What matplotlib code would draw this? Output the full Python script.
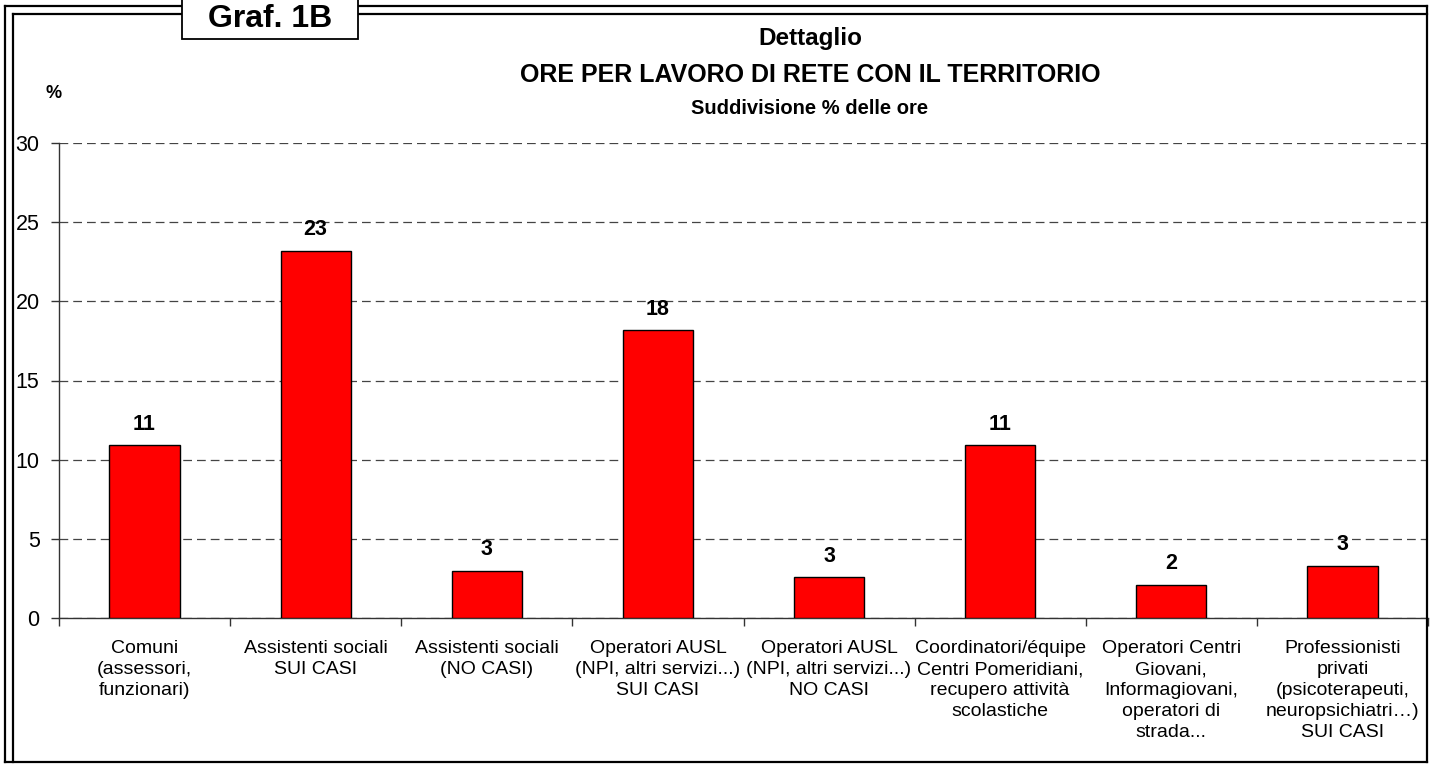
import numpy as np
import matplotlib
matplotlib.use('Agg')
import matplotlib.pyplot as plt
from matplotlib.patches import Rectangle
from matplotlib.lines import Line2D

# Dati (percentuali)
categorie = [
    'Comuni\n(assessori,\nfunzionari)',
    'Assistenti sociali\nSUI CASI',
    'Assistenti sociali\n(NO CASI)',
    'Operatori AUSL\n(NPI, altri servizi...)\nSUI CASI',
    'Operatori AUSL\n(NPI, altri servizi...)\nNO CASI',
    'Coordinatori/équipe\nCentri Pomeridiani,\nrecupero attività\nscolastiche',
    'Operatori Centri\nGiovani,\nInformagiovani,\noperatori di\nstrada...',
    'Professionisti\nprivati\n(psicoterapeuti,\nneuropsichiatri…)\nSUI CASI',
]
valori = [10.9, 23.2, 3.0, 18.2, 2.6, 10.9, 2.1, 3.3]
y_ticks = [0, 5, 10, 15, 20, 25, 30]

plt.rcParams['font.family'] = ['Liberation Sans', 'DejaVu Sans']

W, H = 1436, 764
fig = plt.figure(figsize=(W / 100, H / 100), dpi=100)


def fx(x):
    return x / W


def fy(y):
    return 1 - y / H


ax = fig.add_axes([fx(59), fy(618), fx(1428) - fx(59), fy(143) - fy(618)])

x = np.arange(len(valori))
ax.bar(x, valori, width=0.41, color='#ff0000', edgecolor='black', linewidth=1.0, zorder=3)

for xi, v in zip(x, valori):
    ax.annotate(f'{v:.0f}', (xi, v), xytext=(0, 15), textcoords='offset points',
                ha='center', va='center', fontsize=15.5, fontweight='bold')

ax.set_xlim(-0.5, len(valori) - 0.5)
ax.set_ylim(0, 30)
ax.set_yticks(y_ticks)
ax.set_yticklabels([str(t) for t in y_ticks], fontsize=15.5)
ax.set_xticks(x)
ax.set_xticklabels(categorie, fontsize=14, linespacing=1.3)
ax.set_xticks(np.arange(-0.5, len(valori), 1), minor=True)
ax.tick_params(axis='x', which='major', length=0, pad=16)
ax.tick_params(axis='x', which='minor', length=6, width=1, color='#333333')
ax.tick_params(axis='y', length=6, width=1, color='#333333', pad=8)

ax.yaxis.grid(True, linestyle=(0, (7, 4)), color='#444444', linewidth=0.9, zorder=0)
ax.set_axisbelow(True)
for s in ['top', 'right']:
    ax.spines[s].set_visible(False)
for s in ['left', 'bottom']:
    ax.spines[s].set_color('#333333')
    ax.spines[s].set_linewidth(1)

# Titoli
cx = fx(810)
fig.text(cx, fy(38), 'Dettaglio', ha='center', va='center', fontsize=17.5, fontweight='bold')
fig.text(cx, fy(75), 'ORE PER LAVORO DI RETE CON IL TERRITORIO', ha='center', va='center',
         fontsize=18, fontweight='bold')
fig.text(cx, fy(108), 'Suddivisione % delle ore', ha='center', va='center',
         fontsize=14.5, fontweight='bold')
fig.text(fx(54), fy(93), '%', ha='center', va='center', fontsize=13, fontweight='bold')

# Cornice doppia
lw = 1.6
bordi = [
    ((5, 5), (6, 762)), ((5, 1427), (6, 6)), ((1427, 1427), (6, 762)), ((5, 1427), (762, 762)),
    ((13, 13), (14, 762)), ((13, 1427), (14, 14)),
]
for xs, ys in bordi:
    fig.add_artist(Line2D([fx(xs[0]), fx(xs[1])], [fy(ys[0]), fy(ys[1])], color='black',
                          linewidth=lw, transform=fig.transFigure))

# Riquadro "Graf. 1B"
fig.add_artist(Rectangle((fx(182), fy(39)), fx(358) - fx(182), fy(-2) - fy(39),
                         facecolor='white', edgecolor='black', linewidth=1.3,
                         transform=fig.transFigure, zorder=5))
fig.text(fx(270), fy(19), 'Graf. 1B', ha='center', va='center', fontsize=23,
         fontweight='bold', zorder=6)

fig.savefig('out.png', dpi=100)
